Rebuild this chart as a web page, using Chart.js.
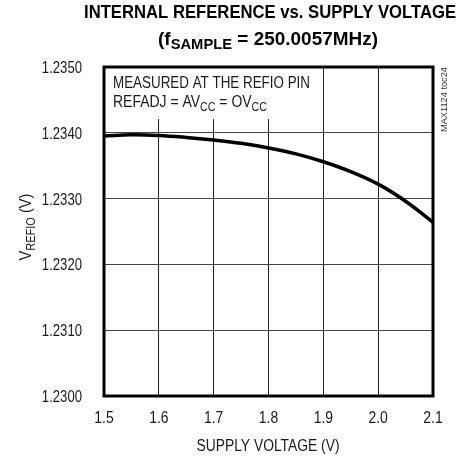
<!DOCTYPE html>
<html>
<head>
<meta charset="utf-8">
<script src="https://cdn.jsdelivr.net/npm/chart.js@4"></script>
<style>
  html, body { margin: 0; padding: 0; background: #fff; }
  #wrap { width: 472px; height: 457px; }
</style>
</head>
<body>
<div id="wrap"><canvas id="chart" width="472" height="457"></canvas></div>
<script>
// supply voltage (V) and measured REFIO voltage (V)
const supplyVoltage = [1.50, 1.55, 1.60, 1.65, 1.70, 1.75, 1.80, 1.85, 1.90, 1.95, 2.00, 2.05, 2.10];
const vRefio = [1.23395, 1.23397, 1.23396, 1.23393, 1.23389, 1.23384, 1.23377, 1.23368, 1.23356, 1.23341, 1.23322, 1.23296, 1.23264];

const xTicks = [1.5, 1.6, 1.7, 1.8, 1.9, 2.0, 2.1];
const yTicks = [1.2300, 1.2310, 1.2320, 1.2330, 1.2340, 1.2350];

const FONT = '"Liberation Sans", Arial, sans-serif';
const SQUEEZE = 0.82; // the original uses a condensed face

// draws a run of text pieces (some as subscripts), squeezed horizontally.
// if fitWidth is given the squeeze is chosen so the run is that wide.
function drawRich(ctx, parts, x, y, size, weight, align, fitWidth) {
    let total = 0;
    parts.forEach(p => {
        ctx.font = weight + ' ' + (p.sub ? Math.round(size * 0.75) : size) + 'px ' + FONT;
        p.w = ctx.measureText(p.t).width;
        total += p.w;
    });
    const sx = fitWidth ? fitWidth / total : SQUEEZE;
    const w = total * sx;
    let start = x;
    if (align === 'center') start = x - w / 2;
    if (align === 'right') start = x - w;
    ctx.save();
    ctx.translate(start, y);
    ctx.scale(sx, 1);
    ctx.textAlign = 'left';
    ctx.textBaseline = 'alphabetic';
    let cx = 0;
    parts.forEach(p => {
        ctx.font = weight + ' ' + (p.sub ? Math.round(size * 0.75) : size) + 'px ' + FONT;
        ctx.fillText(p.t, cx, p.sub ? size * 0.22 : 0);
        cx += p.w;
    });
    ctx.restore();
}

const textPlugin = {
    id: 'texts',
    beforeDatasetsDraw(chart) {
        // white patch behind the note in the upper-left corner
        const ctx = chart.ctx;
        const a = chart.chartArea;
        ctx.save();
        ctx.fillStyle = '#fff';
        ctx.fillRect(a.left + 1, a.top + 1, 168, 51);
        ctx.restore();
    },
    afterDraw(chart) {
        const ctx = chart.ctx;
        const a = chart.chartArea;
        const xs = chart.scales.x;
        const ys = chart.scales.y;
        ctx.save();
        ctx.fillStyle = '#1a1a1a';

        // tick labels, placed by the scales
        xs.ticks.forEach(t => {
            drawRich(ctx, [{ t: t.value.toFixed(1) }], xs.getPixelForValue(t.value), a.bottom + 27, 17, 'normal', 'center');
        });
        ys.ticks.forEach(t => {
            drawRich(ctx, [{ t: t.value.toFixed(4) }], a.left - 22, ys.getPixelForValue(t.value) + 6, 16, 'normal', 'right');
        });

        // title
        ctx.fillStyle = '#000';
        drawRich(ctx, [{ t: 'INTERNAL REFERENCE vs. SUPPLY VOLTAGE' }], 270, 18, 18, 'bold', 'center', 372);
        drawRich(ctx, [{ t: '(f' }, { t: 'SAMPLE', sub: true }, { t: ' = 250.0057MHz)' }], 268, 45, 18, 'bold', 'center', 220);

        // note inside the plot
        ctx.fillStyle = '#1a1a1a';
        drawRich(ctx, [{ t: 'MEASURED AT THE REFIO PIN' }], 113, 88, 17, 'normal', 'left', 197);
        drawRich(ctx, [{ t: 'REFADJ = AV' }, { t: 'CC', sub: true }, { t: ' = OV' }, { t: 'CC', sub: true }], 113, 107, 17, 'normal', 'left', 154);

        // x axis title
        drawRich(ctx, [{ t: 'SUPPLY VOLTAGE (V)' }], 268, 451, 16, 'normal', 'center', 143);

        // y axis title
        ctx.save();
        ctx.translate(31, 227);
        ctx.rotate(-Math.PI / 2);
        drawRich(ctx, [{ t: 'V' }, { t: 'REFIO', sub: true }, { t: ' (V)' }], 0, 0, 16, 'normal', 'center', 67);
        ctx.restore();

        // part tag on the right
        ctx.save();
        ctx.fillStyle = '#333';
        ctx.translate(447, a.top);
        ctx.rotate(-Math.PI / 2);
        drawRich(ctx, [{ t: 'MAX1124 toc24' }], 0, 0, 9, 'normal', 'right', 65);
        ctx.restore();

        // heavy frame
        ctx.strokeStyle = '#000';
        ctx.lineWidth = 3;
        ctx.strokeRect(a.left, a.top, a.right - a.left, a.bottom - a.top);
        ctx.restore();
    }
};

new Chart(document.getElementById('chart'), {
    type: 'line',
    data: {
        datasets: [{
            data: supplyVoltage.map((v, i) => ({ x: v, y: vRefio[i] })),
            borderColor: '#000',
            borderWidth: 3.5,
            pointRadius: 0,
            tension: 0.4,
            fill: false
        }]
    },
    options: {
        responsive: false,
        animation: false,
        layout: { padding: { top: 67, right: 39, left: 0, bottom: 0 } },
        plugins: {
            legend: { display: false },
            tooltip: { enabled: false }
        },
        scales: {
            x: {
                type: 'linear',
                min: 1.5,
                max: 2.1,
                afterFit(scale) { scale.height = 61; },
                afterBuildTicks(scale) { scale.ticks = xTicks.map(v => ({ value: v })); },
                grid: { color: '#222', lineWidth: 1, drawTicks: false },
                border: { display: false },
                ticks: { display: false }
            },
            y: {
                min: 1.2300,
                max: 1.2350,
                afterFit(scale) { scale.width = 104; },
                afterBuildTicks(scale) { scale.ticks = yTicks.map(v => ({ value: v })); },
                grid: { color: '#444', lineWidth: 1, drawTicks: false },
                border: { display: false },
                ticks: { display: false }
            }
        }
    },
    plugins: [textPlugin]
});
</script>
</body>
</html>
